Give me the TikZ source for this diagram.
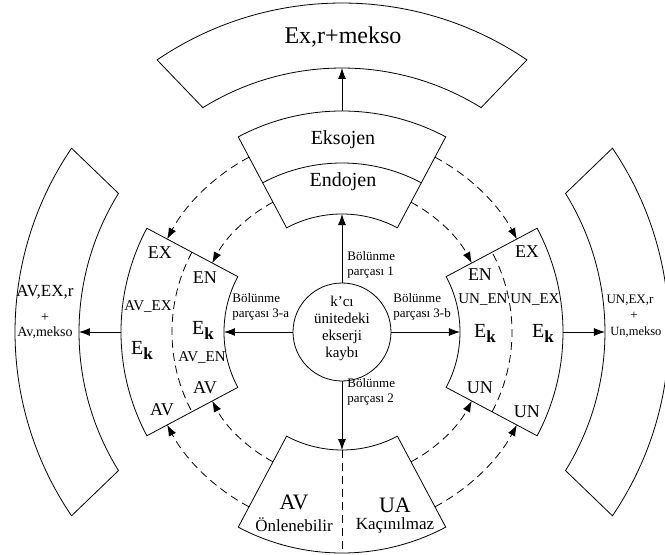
\documentclass[tikz,border=0pt]{standalone}
\usepackage{fontspec}
\setmainfont{Liberation Serif}
\usetikzlibrary{arrows.meta,calc}

\begin{document}
\begin{tikzpicture}[x=1pt,y=1pt,
  line width=0.8pt,
  every node/.style={inner sep=0pt, text=black},
  tip/.style={-{Latex[length=11pt,width=8pt]}},
  dashline/.style={dashed, dash pattern=on 8pt off 5pt},
  flow/.style={dashline, tip},
  lbl/.style={font=\fontsize{18}{20}\selectfont},
  sub/.style={font=\fontsize{15}{17}\selectfont},
  ek/.style={font=\fontsize{20}{22}\selectfont},
  small/.style={font=\fontsize{13}{15}\selectfont, align=left, anchor=west},
]
\useasboundingbox (-342,-223) rectangle (323,332);
\clip (-342,-223) rectangle (323,332);

% outer bands
\draw (58.2:264) arc[start angle=58.2, end angle=121.8, radius=264]
  -- (124.2:329) arc[start angle=124.2, end angle=55.8, radius=329] -- cycle;
\draw (148.2:263) arc[start angle=148.2, end angle=211.8, radius=263]
  -- (214.2:327) arc[start angle=214.2, end angle=145.8, radius=327] -- cycle;
\draw (-31.8:263) arc[start angle=-31.8, end angle=31.8, radius=263]
  -- (34.2:327) arc[start angle=34.2, end angle=-34.2, radius=327] -- cycle;

% sectors of the inner ring
\draw (62:118) arc[start angle=62, end angle=118, radius=118]
  -- (118:221) arc[start angle=118, end angle=62, radius=221] -- cycle;
\draw (62:169) arc[start angle=62, end angle=118, radius=169];
\draw (152:118) arc[start angle=152, end angle=208, radius=118]
  -- (208:221) arc[start angle=208, end angle=152, radius=221] -- cycle;
\draw[dashline] (152:170) arc[start angle=152, end angle=208, radius=170];
\draw (-28:118) arc[start angle=-28, end angle=28, radius=118]
  -- (28:221) arc[start angle=28, end angle=-28, radius=221] -- cycle;
\draw[dashline] (-28:170) arc[start angle=-28, end angle=28, radius=170];
\draw (242:118) arc[start angle=242, end angle=298, radius=118]
  -- (298:221) arc[start angle=298, end angle=242, radius=221] -- cycle;
\draw[dashline] (270:118) -- (270:221);

% dashed flows between sectors
\foreach \r in {147,198}{
  \draw[flow] (118:\r) arc[start angle=118, end angle=152, radius=\r];
  \draw[flow] (62:\r) arc[start angle=62, end angle=28, radius=\r];
  \draw[flow] (242:\r) arc[start angle=242, end angle=208, radius=\r];
  \draw[flow] (298:\r) arc[start angle=298, end angle=332, radius=\r];
}

% hub
\node[circle, draw, minimum size=98pt] (hub) at (0,0) {};
\node[align=center, font=\fontsize{15}{17}\selectfont] (hubtext) at (0,4)
  {k'cı\\ünitedeki\\ekserji\\kaybı};

\coordinate (tin) at (90:118);
\coordinate (bin) at (270:118);
\coordinate (lin) at (180:118);
\coordinate (rin) at (0:118);
\coordinate (tout) at (90:221);
\coordinate (lout) at (180:221);
\coordinate (rout) at (0:221);
\coordinate (tband) at (90:264);
\coordinate (lband) at (180:263);
\coordinate (rband) at (0:263);

\draw[tip] (hub.north) -- (tin);
\draw[tip] (hub.south) -- (bin);
\draw[tip] (hub.west) -- (lin);
\draw[tip] (hub.east) -- (rin);
\draw[tip] (tout) -- (tband);
\draw[tip] (lout) -- (lband);
\draw[tip] (rout) -- (rband);

% texts
\node[font=\fontsize{24}{26}\selectfont] (exr) at (1,295) {Ex,r+mekso};
\node[font=\fontsize{20}{22}\selectfont] (ekso) at (1,192) {Eksojen};
\node[font=\fontsize{20}{22}\selectfont] (endo) at (1,150) {Endojen};

\node[small] (p1) at (5,67) {Bölünme\\parçası 1};
\node[small] (p2) at (5,-60) {Bölünme\\parçası 2};
\node[small] (p3a) at (-110,25) {Bölünme\\parçası 3-a};
\node[small] (p3b) at (51,25) {Bölünme\\parçası 3-b};

% left sector
\node[lbl] (lex) at (-182,79) {EX};
\node[lbl] (len) at (-137,54) {EN};
\node[sub] (lavex) at (-194,25) {AV\_EX};
\node[ek] (lek1) at (-200,-18) {E\raisebox{-5pt}{\fontsize{17}{19}\selectfont\textbf{k}}};
\node[ek] (lek2) at (-139,2) {E\raisebox{-5pt}{\fontsize{17}{19}\selectfont\textbf{k}}};
\node[sub] (laven) at (-140,-26) {AV\_EN};
\node[lbl] (lav1) at (-137,-56) {AV};
\node[lbl] (lav2) at (-180,-78) {AV};

% right sector
\node[lbl] (rex) at (185,80) {EX};
\node[lbl] (ren) at (138,57) {EN};
\node[sub] (runen) at (141,32) {UN\_EN};
\node[sub] (runex) at (193,32) {UN\_EX};
\node[ek] (rek1) at (143,-1) {E\raisebox{-5pt}{\fontsize{17}{19}\selectfont\textbf{k}}};
\node[ek] (rek2) at (201,-1) {E\raisebox{-5pt}{\fontsize{17}{19}\selectfont\textbf{k}}};
\node[lbl] (run1) at (138,-56) {UN};
\node[lbl] (run2) at (185,-80) {UN};

% bottom sector
\node[font=\fontsize{22}{24}\selectfont] (bav) at (-48,-170) {AV};
\node[font=\fontsize{17}{19}\selectfont] (bon) at (-48,-193) {Önlenebilir};
\node[font=\fontsize{22}{24}\selectfont] (bua) at (53,-173) {UA};
\node[font=\fontsize{17}{19}\selectfont] (bka) at (53,-193) {Kaçınılmaz};

% side bands
\node[font=\fontsize{17}{19}\selectfont] (lb1) at (-297,40) {AV,EX,r};
\node[font=\fontsize{14}{16}\selectfont] (lb2) at (-297,14) {+};
\node[font=\fontsize{14}{16}\selectfont] (lb3) at (-297,-1) {Av,mekso};
\node[font=\fontsize{13}{15}\selectfont] (rb1) at (288,32) {UN,EX,r};
\node[font=\fontsize{13}{15}\selectfont] (rb2) at (292,16) {+};
\node[font=\fontsize{12.5}{14}\selectfont, anchor=west] (rb3) at (268,0) {Un,mekso};
\end{tikzpicture}
\end{document}
